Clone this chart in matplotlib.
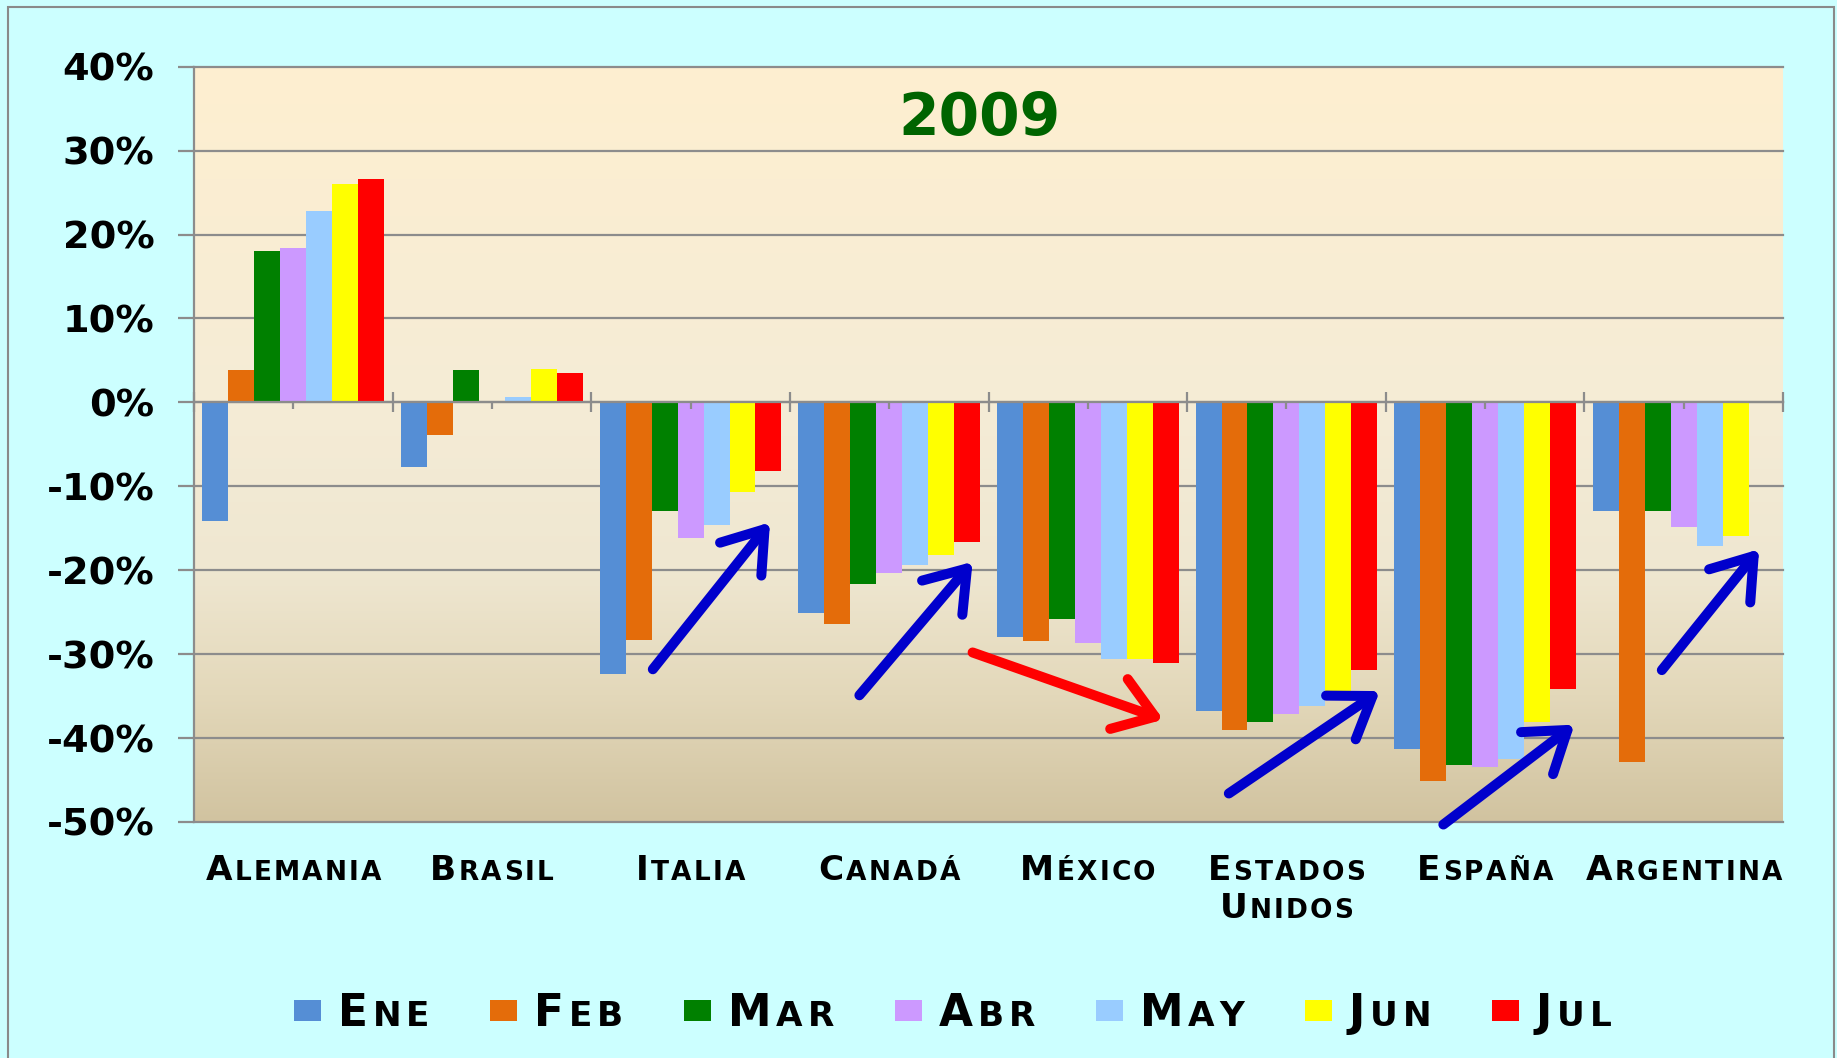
import numpy as np
import matplotlib
matplotlib.use("Agg")
import matplotlib.pyplot as plt
from matplotlib.offsetbox import TextArea, HPacker, VPacker, DrawingArea, AnnotationBbox
from matplotlib.patches import Rectangle

# ---------------- data ----------------
countries = ["Alemania", "Brasil", "Italia", "Canadá", "México",
             "Estados Unidos", "España", "Argentina"]
months = ["Ene", "Feb", "Mar", "Abr", "May", "Jun", "Jul"]

ene = [-14.1, -7.7, -32.4, -25.1, -28.0, -36.8, -41.3, -12.9]
feb = [3.9, -3.9, -28.3, -26.4, -28.4, -39.0, -45.1, -42.8]
mar = [18.0, 3.9, -12.9, -21.6, -25.8, -38.1, -43.2, -12.9]
abr = [18.4, 0.0, -16.2, -20.3, -28.7, -37.1, -43.4, -14.8]
may = [22.8, 0.6, -14.6, -19.4, -30.6, -36.2, -42.5, -17.1]
jun = [26.0, 4.0, -10.7, -18.2, -30.6, -34.9, -38.1, -15.9]
jul = [26.6, 3.5, -8.2, -16.6, -31.0, -31.9, -34.1, np.nan]
series = [ene, feb, mar, abr, may, jun, jul]

yticks = [40, 30, 20, 10, 0, -10, -20, -30, -40, -50]
title = "2009"

# annotation arrows: (x_tail, y_tail, x_head, y_head, colour)
arrows = [
    (1.81, -31.8, 2.40, -14.3, "#0000CC"),
    (2.85, -34.9, 3.42, -19.0, "#0000CC"),
    (3.42, -29.8, 4.38, -37.8, "#FF0000"),
    (4.71, -46.6, 5.47, -34.4, "#0000CC"),
    (5.79, -50.3, 6.45, -38.4, "#0000CC"),
    (6.89, -31.9, 7.38, -17.5, "#0000CC"),
]

colors = ["#558ED5", "#E46C0A", "#008000", "#CC99FF", "#99CCFF", "#FFFF00", "#FF0000"]
GRAY = "#8C8C8C"
LABEL_FONT = ["DejaVu Sans"]

# ---------------- figure ----------------
W, H = 1837, 1058
fig = plt.figure(figsize=(W / 100, H / 100), dpi=100, facecolor="#CCFFFF")
ax = fig.add_axes([194 / W, 1 - 822 / H, (1783 - 194) / W, (822 - 66.7) / H])
ax.set_facecolor("none")

ax.set_xlim(-0.5, len(countries) - 0.5)
ax.set_ylim(-50, 40)

# gradient background of plot area
stops_y = np.array([40, 0, -20, -35, -50])
stops_c = np.array([[254, 239, 208], [245, 236, 214], [239, 231, 209],
                    [227, 216, 186], [209, 195, 160]]) / 255.0
yy = np.linspace(40, -50, 300)
grad = np.stack([np.interp(yy, stops_y[::-1], stops_c[::-1, k]) for k in range(3)], axis=-1)
ax.imshow(grad[:, None, :], extent=(-0.5, len(countries) - 0.5, -50, 40),
          aspect="auto", origin="upper", zorder=0)

# gridlines
for t in yticks:
    ax.axhline(t, color=GRAY, lw=1.6, zorder=0.8, clip_on=False)

# bars
x = np.arange(len(countries))
n = len(months)
bw = 0.915 / n
for j, (vals, c) in enumerate(zip(series, colors)):
    ax.bar(x + (j - (n - 1) / 2) * bw, vals, width=bw, color=c, zorder=1,
           edgecolor="none", label=months[j])

# spines & ticks
for s in ["top", "right"]:
    ax.spines[s].set_visible(False)
ax.spines["left"].set_color(GRAY)
ax.spines["left"].set_linewidth(1.6)
ax.spines["bottom"].set_position(("data", 0))
ax.spines["bottom"].set_color(GRAY)
ax.spines["bottom"].set_linewidth(1.6)
ax.spines["bottom"].set_zorder(3)

ax.set_yticks(yticks, labels=[f"{t}%" for t in yticks], fontsize=27.5, fontweight="bold")
ax.tick_params(axis="y", direction="out", length=11.5, width=1.6, color=GRAY, pad=17)
ax.set_xticks(np.arange(-0.5, len(countries)), minor=False)
ax.set_xticks(x, minor=True)
ax.tick_params(axis="x", which="major", direction="inout", length=14, width=1.6,
               color=GRAY, labelbottom=False)
ax.tick_params(axis="x", which="minor", direction="out", length=5, width=1.6,
               color=GRAY, labelbottom=False)
ax.xaxis.set_zorder(3)


def sc_word(word, big, small, track):
    """Small-caps word built from single characters with letter spacing."""
    chars = []
    for k, ch in enumerate(word.upper()):
        chars.append(TextArea(ch, textprops=dict(fontsize=big if k == 0 else small,
                                                 fontweight="bold", color="black",
                                                 family=LABEL_FONT)))
    return HPacker(children=chars, align="baseline", pad=0, sep=track)


# category labels (small caps)
for i, name in enumerate(countries):
    words = name.split(" ")
    if len(words) == 1:
        box = sc_word(words[0], 24.7, 19, 1.6)
    else:
        box = VPacker(children=[sc_word(w, 24.7, 19, 1.6) for w in words],
                      align="center", pad=0, sep=3)
    ab = AnnotationBbox(box, (i, -0.043), xycoords=("data", "axes fraction"),
                        box_alignment=(0.5, 1), frameon=False, pad=0,
                        annotation_clip=False)
    ax.add_artist(ab)

# title
ax.text(0.4946, 0.9096, title, transform=ax.transAxes, ha="center", va="baseline",
        fontsize=42, fontweight="bold", color="#006400", zorder=4)

# arrows
for (x0, y0, x1, y1, c) in arrows:
    ax.annotate("", xy=(x1, y1), xytext=(x0, y0), annotation_clip=False,
                arrowprops=dict(arrowstyle="->,head_length=0.55,head_width=0.38",
                                mutation_scale=50, lw=7.2, color=c,
                                shrinkA=0, shrinkB=0, capstyle="round",
                                joinstyle="round"), zorder=5)

# legend (small caps)
entries = []
for m, c in zip(months, colors):
    da = DrawingArea(19.4, 18.7, 0, 0)
    da.add_artist(Rectangle((0, 3.6), 19.4, 15.1, fc=c, ec="none"))
    entries.append(HPacker(children=[da, sc_word(m, 31.6, 24.7, 3.5)],
                           align="baseline", pad=0, sep=12))
leg = HPacker(children=entries, align="baseline", pad=0, sep=44)
lab = AnnotationBbox(leg, (294 / W, 1 - 1035 / H), xycoords="figure fraction",
                     box_alignment=(0, 0), frameon=False, pad=0)
fig.add_artist(lab)

# outer border
fig.patches.append(Rectangle((8 / W, -0.05), (1834 - 8) / W, (1 - 7 / H) + 0.05,
                             transform=fig.transFigure, fill=False,
                             ec="#8A8A8A", lw=1.5))

fig.savefig("out.png", dpi=100, facecolor=fig.get_facecolor())
